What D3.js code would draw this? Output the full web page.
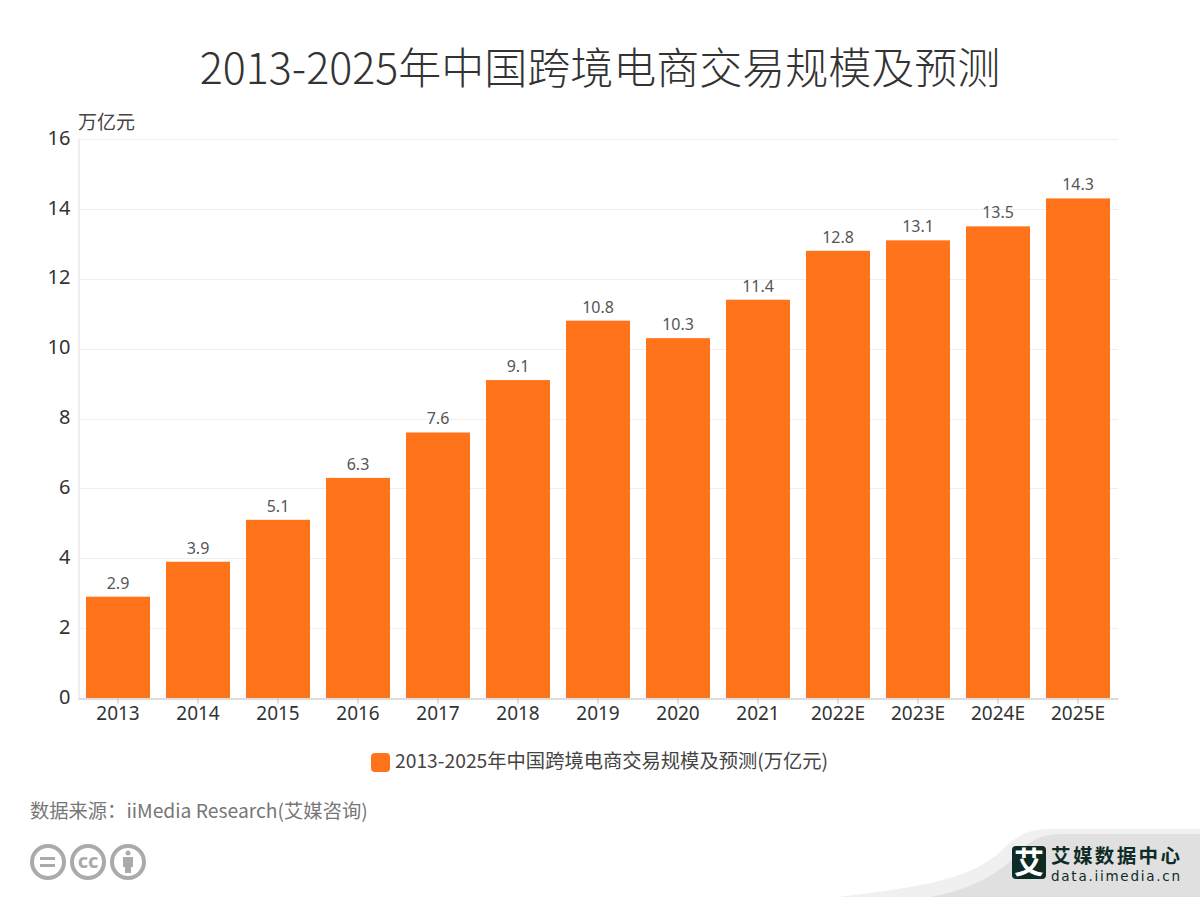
<!DOCTYPE html>
<html lang="zh">
<head>
  <meta charset="UTF-8">
  <title>2013-2025年中国跨境电商交易规模及预测</title>
  <script src="https://cdn.jsdelivr.net/npm/d3@7/dist/d3.min.js"></script>
  <style>
    html, body { margin: 0; padding: 0; background: #fff; }
    svg { display: block; }
    text { font-family: "Noto Sans CJK SC", "Noto Sans", sans-serif; }
  </style>
</head>
<body>
  <script>
    const years = ["2013", "2014", "2015", "2016", "2017", "2018", "2019", "2020", "2021", "2022E", "2023E", "2024E", "2025E"];
    const values = [2.9, 3.9, 5.1, 6.3, 7.6, 9.1, 10.8, 10.3, 11.4, 12.8, 13.1, 13.5, 14.3];
    const yTicks = [0, 2, 4, 6, 8, 10, 12, 14, 16];
    const chartTitle = "2013-2025年中国跨境电商交易规模及预测";
    const legendLabel = "2013-2025年中国跨境电商交易规模及预测(万亿元)";
    const unitLabel = "万亿元";
    const sourceLabel = "数据来源：iiMedia Research(艾媒咨询)";

    const svg = d3.select("body").append("svg").attr("width", 1200).attr("height", 898);
    const orange = "#ff731b";

    // footer swoosh goes under everything else
    const footer = svg.append("g");
    footer.append("path").attr("fill", "#f0f0f0")
      .attr("d", "M838,897 C930,886 970,878 1000,852 C1012,841 1022,829 1050,829 L1200,829 L1200,897 Z");
    footer.append("path").attr("fill", "#e0e0e0")
      .attr("d", "M930,897 C980,888 1005,868 1022,850 C1032,838 1045,834 1065,834 L1200,834 L1200,897 Z");

    // scales
    const x = d3.scaleBand().domain(years).range([78, 1118]).paddingInner(0.2).paddingOuter(0.1);
    const y = d3.scaleLinear().domain([0, 16]).range([698, 139]);

    // title
    svg.append("text").attr("x", 600).attr("y", 84).attr("text-anchor", "middle")
      .attr("font-size", 43).attr("font-weight", 300).attr("fill", "#333").text(chartTitle);

    // gridlines
    svg.append("g").selectAll("line").data(yTicks.filter(d => d > 0)).enter().append("line")
      .attr("x1", 78).attr("x2", 1118)
      .attr("y1", d => Math.round(y(d)) + 0.5).attr("y2", d => Math.round(y(d)) + 0.5)
      .attr("stroke", "#eeeeee");

    // y axis
    const axisY = d3.axisLeft(y).tickValues(yTicks).tickSize(0).tickPadding(8);
    const gy = svg.append("g").attr("transform", "translate(78.5,0)").call(axisY);
    gy.select(".domain").attr("stroke", "#eeeeee").attr("stroke-width", 2);
    gy.selectAll("text").attr("font-size", 20).attr("fill", "#333").attr("dy", "0.26em")
      .style("font-family", '"Noto Sans", sans-serif');

    // bars
    svg.append("g").selectAll("rect").data(values).enter().append("rect")
      .attr("x", (d, i) => x(years[i]))
      .attr("y", d => y(d))
      .attr("width", x.bandwidth())
      .attr("height", d => y(0) - y(d))
      .attr("fill", orange);

    // x axis
    const axisX = d3.axisBottom(x).tickSize(5).tickSizeOuter(0).tickPadding(3);
    const gx = svg.append("g").attr("transform", "translate(0,698.5)").call(axisX);
    gx.select(".domain").attr("stroke", "#bbbbbb");
    gx.selectAll("line").attr("stroke", "#bbbbbb");
    gx.selectAll("text").attr("font-size", 19).attr("fill", "#333")
      .style("font-family", '"Noto Sans", sans-serif');

    // value labels
    svg.append("g").selectAll("text").data(values).enter().append("text")
      .attr("x", (d, i) => x(years[i]) + x.bandwidth() / 2)
      .attr("y", d => y(d) - 8)
      .attr("text-anchor", "middle").attr("font-size", 16).attr("fill", "#555")
      .style("font-family", '"Noto Sans", sans-serif')
      .text(d => d.toFixed(1));

    // unit
    svg.append("text").attr("x", 78).attr("y", 129).attr("font-size", 19).attr("fill", "#444")
      .text(unitLabel);

    // legend
    svg.append("rect").attr("x", 371).attr("y", 753).attr("width", 19).attr("height", 19).attr("rx", 4)
      .attr("fill", orange);
    svg.append("text").attr("x", 395).attr("y", 768).attr("font-size", 19.3).attr("fill", "#444")
      .text(legendLabel);

    // source
    svg.append("text").attr("x", 30).attr("y", 818).attr("font-size", 19.3).attr("fill", "#777")
      .text(sourceLabel);

    // licence badges
    const badgeX = [48, 88, 128];
    const badges = svg.append("g");
    badges.selectAll("circle").data(badgeX).enter().append("circle")
      .attr("cx", d => d).attr("cy", 862).attr("r", 16)
      .attr("fill", "none").attr("stroke", "#aaa").attr("stroke-width", 4);
    badges.append("rect").attr("x", 40).attr("y", 857).attr("width", 15).attr("height", 3).attr("fill", "#aaa");
    badges.append("rect").attr("x", 40).attr("y", 864).attr("width", 15).attr("height", 3).attr("fill", "#aaa");
    badges.append("text").attr("x", 88).attr("y", 868).attr("text-anchor", "middle")
      .attr("font-size", 20).attr("font-weight", 700).attr("fill", "#aaa")
      .style("font-family", '"Noto Sans", sans-serif').text("cc");
    badges.append("circle").attr("cx", 128).attr("cy", 853).attr("r", 2.5).attr("fill", "#aaa");
    badges.append("path").attr("fill", "#aaa")
      .attr("d", "M123,857 H133 V867 H131 V873 H125 V867 H123 Z");

    // brand
    const brand = svg.append("g");
    brand.append("rect").attr("x", 1012).attr("y", 846).attr("width", 34).attr("height", 33).attr("rx", 4).attr("fill", "#0e2b26");
    brand.append("text").attr("x", 1029).attr("y", 873).attr("text-anchor", "middle")
      .attr("font-size", 30).attr("font-weight", 700).attr("fill", "#fff").text("艾");
    brand.append("text").attr("x", 1051).attr("y", 863).attr("font-size", 19.5).attr("font-weight", 700)
      .attr("letter-spacing", 2.4).attr("fill", "#0e2b26").text("艾媒数据中心");
    brand.append("text").attr("x", 1051).attr("y", 881).attr("font-size", 13.5)
      .attr("letter-spacing", 1.75).attr("fill", "#0e2b26")
      .style("font-family", '"DejaVu Sans", sans-serif').text("data.iimedia.cn");
  </script>
</body>
</html>
